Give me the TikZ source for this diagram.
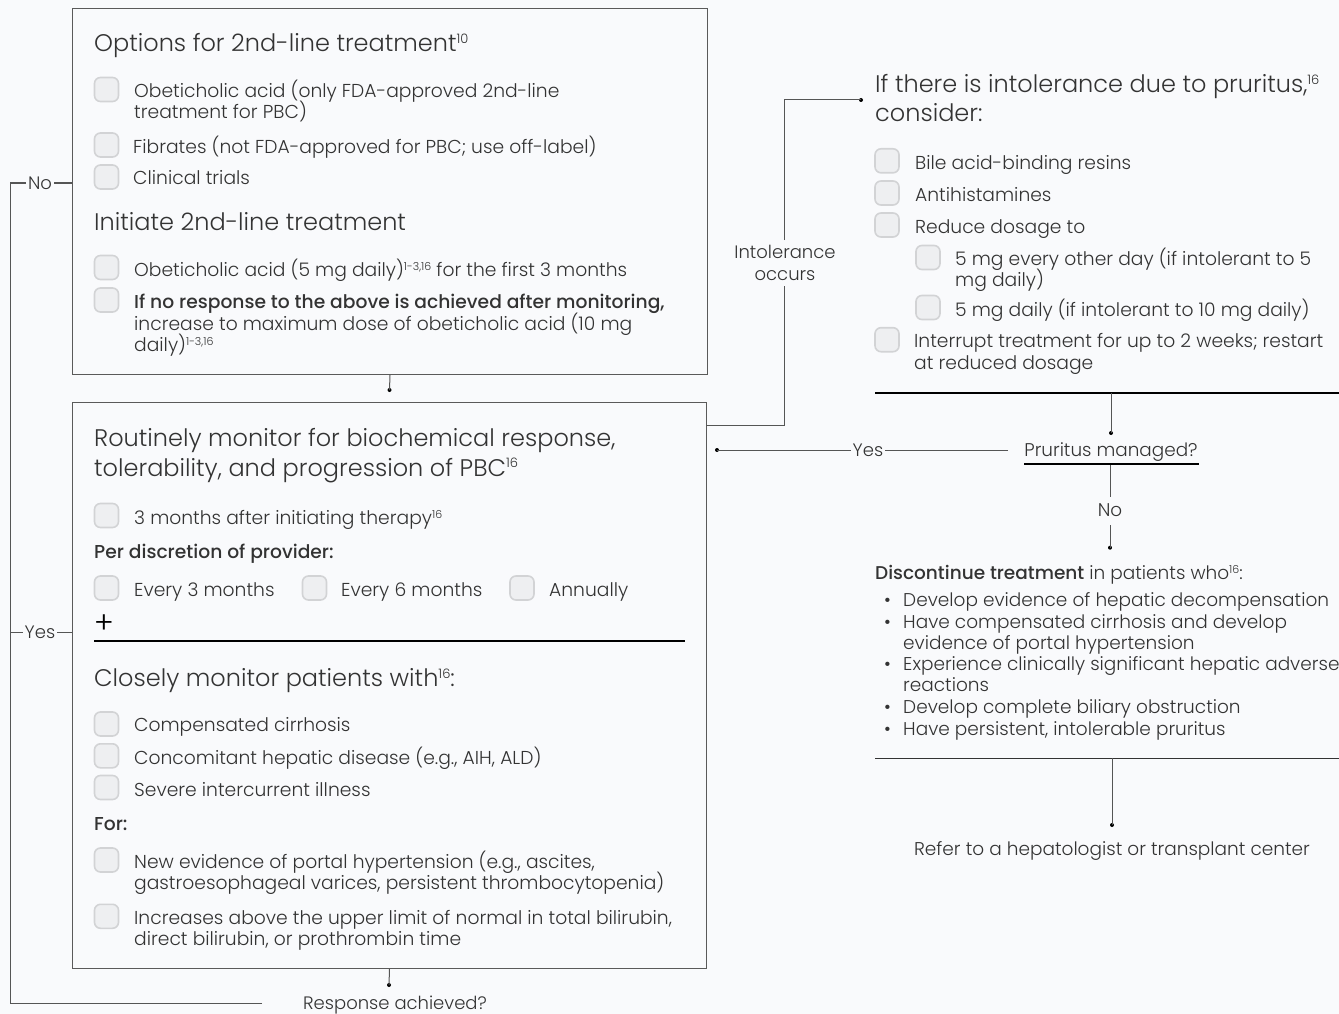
\documentclass[tikz,border=0pt]{standalone}
\usepackage{fontspec}
\setmainfont{Poppins}[UprightFont={* Light}, BoldFont={* Medium}]
\definecolor{bg}{HTML}{F9FAFC}
\definecolor{txtc}{HTML}{333333}
\definecolor{framec}{HTML}{5A5A5A}
\definecolor{linec}{HTML}{555555}
\definecolor{cbfill}{HTML}{EEEFF1}
\definecolor{cbborder}{HTML}{D2D3D5}
\newcommand\hsup[1]{\raisebox{8.5pt}{\fontsize{13}{13}\selectfont #1}}
\newcommand\bsup[1]{\raisebox{6pt}{\fontsize{11}{11}\selectfont #1}}
\tikzset{
  txt/.style={anchor=base west, inner sep=0pt, text=txtc, font=\fontsize{18.7}{21}\selectfont},
  rtxt/.style={anchor=base west, inner sep=0pt, text=txtc, font=\fontsize{18.7}{21}\selectfont},
  dtxt/.style={anchor=base west, inner sep=0pt, text=txtc, font=\fontsize{18.5}{21}\selectfont},
  head/.style={anchor=base west, inner sep=0pt, text=txtc, font=\fontsize{24}{28}\selectfont},
  lbl/.style={inner sep=2pt, text=txtc, font=\fontsize{18}{21}\selectfont},
  cbox/.style={draw=cbborder, fill=cbfill, line width=1.6pt, rounded corners=6pt, minimum width=24pt, minimum height=24pt, inner sep=0pt},
  frame/.style={draw=framec, line width=1pt, anchor=north west, inner sep=0pt},
  conn/.style={draw=linec, line width=1pt},
  rule/.style={draw=black, line width=2pt},
  dotn/.style={circle, fill=black, inner sep=0pt, minimum size=4pt}
}
\begin{document}
\begin{tikzpicture}[x=1pt,y=-1pt]
\path[use as bounding box, fill=bg] (0,0) rectangle (1339,1014);

% ---------- boxes
\node[frame, minimum width=635pt, minimum height=366pt] (b1) at (72,8) {};
\node[frame, minimum width=634pt, minimum height=566pt] (b2) at (72,402) {};

% ---------- box 1 content
\node[head] (h1) at (94,51.7) {Options for 2nd-line treatment\hsup{10}};
\node[cbox] (c1) at (106.5,89.5) {};
\node[txt] (t1a) at (134,97.3) {Obeticholic acid (only FDA-approved 2nd-line};
\node[txt] (t1b) at (134,118.3) {treatment for PBC)};
\node[cbox] (c2) at (106.5,145) {};
\node[txt] (t2) at (133,153.3) {Fibrates (not FDA-approved for PBC; use off-label)};
\node[cbox] (c3) at (106.5,177) {};
\node[txt] (t3) at (133,185) {Clinical trials};
\node[head] (h2) at (94,230) {Initiate 2nd-line treatment};
\node[cbox] (c4) at (106.5,267.5) {};
\node[txt] (t4) at (134,276) {Obeticholic acid (5 mg daily)\bsup{1-3,16} for the first 3 months};
\node[cbox] (c5) at (106.5,300) {};
\node[txt] (t5a) at (134,308.3) {\bfseries If no response to the above is achieved after monitoring,};
\node[txt] (t5b) at (134,330) {increase to maximum dose of obeticholic acid (10 mg};
\node[txt] (t5c) at (134,351) {daily)\bsup{1-3,16}};

% ---------- box 2 content
\node[head] (h3a) at (94,446.7) {Routinely monitor for biochemical response,};
\node[head] (h3b) at (94,476) {tolerability, and progression of PBC\hsup{16}};
\node[cbox] (c6) at (106.5,515.5) {};
\node[txt] (t6) at (134,524) {3 months after initiating therapy\bsup{16}};
\node[txt] (t7) at (94,558) {\bfseries Per discretion of provider:};
\node[cbox] (c7) at (106.5,588) {};
\node[txt] (t7a) at (134,596.7) {Every 3 months};
\node[cbox] (c8) at (314.5,588) {};
\node[txt] (t8) at (341,596.7) {Every 6 months};
\node[cbox] (c9) at (522,588) {};
\node[txt] (t9) at (549,596.7) {Annually};
\node[inner sep=0pt, text=black, font=\fontsize{30}{30}\selectfont] (plus) at (104,624) {+};
\coordinate (r1a) at (94,640.7);
\coordinate (r1b) at (685,640.7);
\draw[rule] (r1a) -- (r1b);
\node[head] (h4) at (94,686.7) {Closely monitor patients with\hsup{16}:};
\node[cbox] (c10) at (106.5,724) {};
\node[txt] (t10) at (134,731.7) {Compensated cirrhosis};
\node[cbox] (c11) at (106.5,755.8) {};
\node[txt] (t11) at (134,764) {Concomitant hepatic disease (e.g., AIH, ALD)};
\node[cbox] (c12) at (106.5,787.5) {};
\node[txt] (t12) at (134,796) {Severe intercurrent illness};
\node[txt] (t13) at (94,830.7) {\bfseries For:};
\node[cbox] (c13) at (106.5,860) {};
\node[txt] (t13a) at (134,868.3) {New evidence of portal hypertension (e.g., ascites,};
\node[txt] (t13b) at (134,889.3) {gastroesophageal varices, persistent thrombocytopenia)};
\node[cbox] (c14) at (106.5,916.3) {};
\node[txt] (t14a) at (134,924.3) {Increases above the upper limit of normal in total bilirubin,};
\node[txt] (t14b) at (134,945.3) {direct bilirubin, or prothrombin time};

% ---------- connectors between boxes
\node[dotn] (d1) at (389.5,390) {};
\draw[conn] (b1.south) -- (d1.center);
\node[dotn] (d2) at (389,985) {};
\draw[conn] (b2.south) -- (d2.center);
\node[lbl, anchor=base, inner sep=0pt] (resp) at (395,1009) {Response achieved?};

% left loop
\node[lbl] (no1) at (40,183) {No};
\node[lbl] (yes1) at (40,632) {Yes};
\coordinate (lA) at (262,1003.3);
\coordinate (lB) at (10,1003.3);
\coordinate (lC) at (10,183);
\coordinate (lY) at (10,632);
\draw[conn] (lA) -- (lB) -- (lC) -- (no1.west);
\draw[conn] (no1.east) -- (b1.west |- no1.east);
\draw[conn] (lY) -- (yes1.west);
\draw[conn] (yes1.east) -- (b2.west |- yes1.east);

% right: intolerance
\node[lbl, align=center, inner sep=5pt, font=\fontsize{18}{21.7}\selectfont] (intol) at (785,263) {Intolerance\\occurs};
\coordinate (rA) at (706,425);
\coordinate (rB) at (784,425);
\coordinate (rC) at (784,100);
\node[dotn] (d3) at (861,100) {};
\draw[conn] (rA) -- (rB) -- (rB |- intol.south);
\draw[conn] (rB |- intol.north) -- (rC) -- (d3.center);

% ---------- pruritus section
\node[head] (rh1) at (875,92.7) {If there is intolerance due to pruritus,\hsup{16}};
\node[head] (rh2) at (875,121.7) {consider:};
\node[cbox] (c15) at (887,160.8) {};
\node[rtxt] (r1) at (915,169.3) {Bile acid-binding resins};
\node[cbox] (c16) at (887,193) {};
\node[rtxt] (r2) at (915,201.7) {Antihistamines};
\node[cbox] (c17) at (887,225) {};
\node[rtxt] (r3) at (915,233.3) {Reduce dosage to};
\node[cbox] (c18) at (928,257.5) {};
\node[rtxt] (r4a) at (955,265) {5 mg every other day (if intolerant to 5};
\node[rtxt] (r4b) at (955,286.7) {mg daily)};
\node[cbox] (c19) at (928,307.5) {};
\node[rtxt] (r5) at (955,316) {5 mg daily (if intolerant to 10 mg daily)};
\node[cbox] (c20) at (887,339.7) {};
\node[rtxt] (r6a) at (914,347.3) {Interrupt treatment for up to 2 weeks; restart};
\node[rtxt] (r6b) at (914,369.3) {at reduced dosage};
\coordinate (pl1) at (875,392.7);
\coordinate (pl2) at (1339,392.7);
\draw[rule] (pl1) -- (pl2);
\coordinate (plc) at (1111,392.7);
\node[dotn] (d4) at (1111,433) {};
\draw[conn] (plc) -- (d4.center);

\node[anchor=base, inner sep=0pt, text=txtc, font=\fontsize{18.4}{21}\selectfont] (pm) at (1111,456.7) {Pruritus managed?};
\coordinate (pu1) at (1024,464.3);
\coordinate (pu2) at (1199,464.3);
\draw[rule] (pu1) -- (pu2);
\node[lbl] (yes2) at (868,450) {Yes};
\coordinate (pmL) at (1008,450);
\node[dotn] (d5) at (717,450) {};
\draw[conn] (pmL) -- (yes2.east);
\draw[conn] (yes2.west) -- (d5.center);
\node[lbl, inner sep=0pt, anchor=base, font=\fontsize{18.4}{21}\selectfont] (no2) at (1110,516.7) {No};
\coordinate (puc) at (1110,465);
\coordinate (no2t) at (1110,496.7);
\coordinate (no2b) at (1110,525);
\node[dotn] (d6) at (1110,547.7) {};
\draw[conn] (puc) -- (no2t);
\draw[conn] (no2b) -- (d6.center);

% ---------- discontinue
\node[dtxt] (dt) at (875,579.3) {\textbf{Discontinue treatment} in patients who\bsup{16}:};
\node[dtxt] (bu1) at (884,606.7) {\textbullet};
\node[dtxt] (l1) at (903,606.7) {Develop evidence of hepatic decompensation};
\node[dtxt] (bu2) at (884,628.3) {\textbullet};
\node[dtxt] (l2) at (903,628.3) {Have compensated cirrhosis and develop};
\node[dtxt] (l2b) at (903,649.3) {evidence of portal hypertension};
\node[dtxt] (bu3) at (884,670.7) {\textbullet};
\node[dtxt] (l3) at (903,670.7) {Experience clinically significant hepatic adverse};
\node[dtxt] (l3b) at (903,691.7) {reactions};
\node[dtxt] (bu4) at (884,713.3) {\textbullet};
\node[dtxt] (l4) at (903,713.3) {Develop complete biliary obstruction};
\node[dtxt] (bu5) at (884,735) {\textbullet};
\node[dtxt] (l5) at (903,735) {Have persistent, intolerable pruritus};
\coordinate (dl1) at (875,758.3);
\coordinate (dl2) at (1339,758.3);
\draw[conn, draw=black!80] (dl1) -- (dl2);
\coordinate (dlc) at (1112,758.3);
\node[dotn] (d7) at (1112,825) {};
\draw[conn] (dlc) -- (d7.center);
\node[anchor=base, inner sep=0pt, text=txtc, font=\fontsize{18.5}{21}\selectfont] (refer) at (1112,855) {Refer to a hepatologist or transplant center};
\end{tikzpicture}
\end{document}
